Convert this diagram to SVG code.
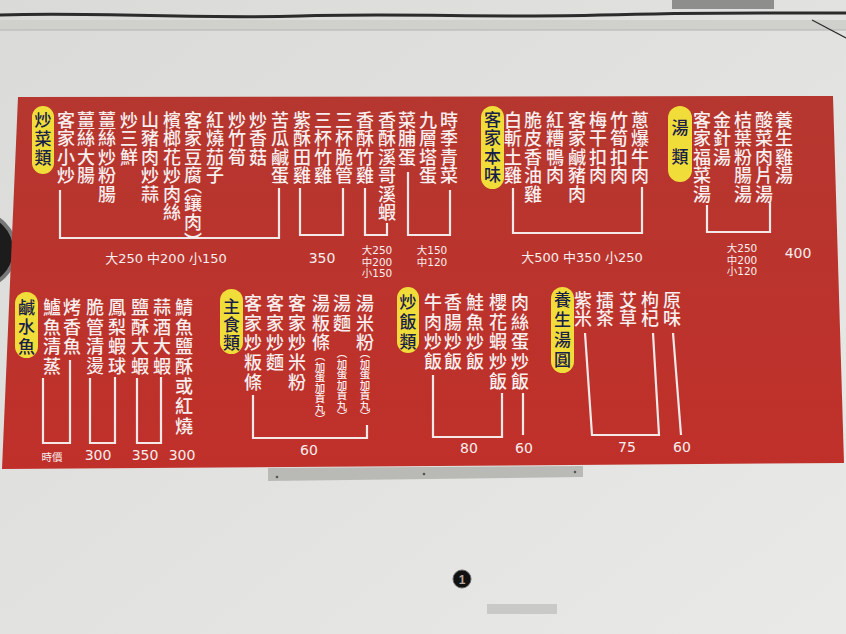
<svg xmlns="http://www.w3.org/2000/svg" width="846" height="634" viewBox="0 0 846 634">
<defs>
<linearGradient id="wall" x1="0" y1="0" x2="1" y2="1">
<stop offset="0" stop-color="#dadad8"/>
<stop offset="1" stop-color="#e9e9e7"/>
</linearGradient>
<linearGradient id="board" x1="0" y1="0" x2="0" y2="1">
<stop offset="0" stop-color="#b5372f"/>
<stop offset="1" stop-color="#c0302a"/>
</linearGradient>
<style>
.v{writing-mode:vertical-rl;font-family:"Noto Sans CJK TC","Noto Sans CJK SC",sans-serif;font-size:18px;fill:#f7eeee;letter-spacing:0.5px;font-weight:500}
.b{letter-spacing:1.8px}
.s{font-size:10.5px;letter-spacing:0}
.p{font-feature-settings:"vhal"}
.pill{fill:#f1dd3a}
.pt{writing-mode:vertical-rl;font-family:"Noto Sans CJK TC","Noto Sans CJK SC",sans-serif;font-size:17px;fill:#18204a;font-weight:500}
.pr{font-family:"DejaVu Sans","Noto Sans CJK TC",sans-serif;fill:#f7eeee;text-anchor:middle;font-size:13px}
.ps{font-size:10.5px}
.pn{font-size:14px}
.ln{fill:none;stroke:#f4e8e8;stroke-width:2.2;stroke-linejoin:miter}
</style>
</defs>
<rect width="846" height="634" fill="url(#wall)"/>
<g id="ceiling">
<rect x="0" y="20" width="846" height="10" fill="#d0d0cd"/>
<line x1="0" y1="30" x2="846" y2="30" stroke="#b4b4b1" stroke-width="1"/>
<path d="M0,15 C100,12 200,19 300,16 S500,18 600,15 S780,13 846,13" fill="none" stroke="#2b2b2b" stroke-width="3"/>
<rect x="672" y="0" width="102" height="9" fill="#8e8e8c"/>
<line x1="812" y1="20" x2="846" y2="38" stroke="#2b2b2b" stroke-width="1.2"/>
</g>
<g id="clock">
<circle cx="-22" cy="250" r="37" fill="#1c1c1c" stroke="#777" stroke-width="4"/>
</g>
<polygon id="board-panel" points="18,97 833,96 844,463 2,469" fill="url(#board)"/>
<polygon id="strip" points="268,468 583,466 583,477 268,481" fill="#b9b9b5"/>
<circle cx="277" cy="477" r="1.3" fill="#555"/>
<circle cx="424" cy="474" r="1.3" fill="#555"/>
<circle cx="575" cy="472" r="1.3" fill="#555"/>
<g id="tag">
<circle cx="462" cy="579" r="9" fill="#111" stroke="#666" stroke-width="1"/>
<text x="462" y="583.5" font-family="Liberation Sans, sans-serif" font-size="12" font-weight="bold" fill="#b9a9a0" text-anchor="middle">1</text>
</g>
<rect x="487" y="604" width="70" height="10" fill="#c9c9c7"/>

<g id="connectors" class="ln">
<path d="M60,190 V238 H279 V188"/>
<path d="M300,188 V235 H343 V188"/>
<path d="M365,188 V235 H387 V223"/>
<path d="M408,172 V235 H450 V190"/>
<path d="M513,188 V233 H642 V187"/>
<path d="M707,205 V232 H770 V203"/>
<path d="M43,378 V443 H70 V360"/>
<path d="M90,378 V443 H115 V377"/>
<path d="M137,378 V443 H161 V377"/>
<path d="M253,395 V438 H367 V425"/>
<path d="M433,375 V437 H502 V393"/>
<path d="M523,393 V435"/>
<path d="M585,333 L592,435 L659,435 L653,333"/>
<path d="M673,333 L681,435"/>
</g>

<g id="stir-fry">
<rect class="pill" x="32" y="106" width="22" height="68" rx="11"/>
<text class="pt" x="43" y="111" style="letter-spacing:2px">炒菜類</text>
<text class="v" x="66" y="111">客家小炒</text>
<text class="v" x="86" y="111">薑絲大腸</text>
<text class="v" x="107" y="111">薑絲炒粉腸</text>
<text class="v" x="129" y="111">炒三鮮</text>
<text class="v" x="150" y="111">山豬肉炒蒜</text>
<text class="v" x="172" y="111">檳榔花炒肉絲</text>
<text class="v" x="193" y="111">客家豆腐<tspan class="p">（</tspan>鑲肉<tspan class="p">）</tspan></text>
<text class="v" x="215" y="111">紅燒茄子</text>
<text class="v" x="237" y="111">炒竹筍</text>
<text class="v" x="258" y="111">炒香菇</text>
<text class="v" x="280" y="111">苦瓜鹹蛋</text>
<text class="v" x="302" y="111">紫酥田雞</text>
<text class="v" x="323" y="111">三杯竹雞</text>
<text class="v" x="344" y="111">三杯脆管</text>
<text class="v" x="365" y="111">香酥竹雞</text>
<text class="v" x="387" y="111">香酥溪哥溪蝦</text>
<text class="v" x="407" y="111">菜脯蛋</text>
<text class="v" x="428" y="111">九層塔蛋</text>
<text class="v" x="449" y="111">時季青菜</text>
<text class="pr" x="166" y="263">大250 中200 小150</text>
<text class="pr pn" x="322" y="263">350</text>
<text class="pr ps" x="377" y="254">大250</text>
<text class="pr ps" x="377" y="265.5">中200</text>
<text class="pr ps" x="377" y="277">小150</text>
<text class="pr ps" x="432" y="254">大150</text>
<text class="pr ps" x="432" y="266">中120</text>
</g>

<g id="hakka">
<rect class="pill" x="481" y="106" width="23" height="83" rx="11.5"/>
<text class="pt" x="492.5" y="111" style="letter-spacing:1.5px">客家本味</text>
<text class="v" x="513" y="111">白斬土雞</text>
<text class="v" x="533" y="111">脆皮香油雞</text>
<text class="v" x="555" y="111">紅糟鴨肉</text>
<text class="v" x="577" y="111">客家鹹豬肉</text>
<text class="v" x="598" y="111">梅干扣肉</text>
<text class="v" x="619" y="111">竹筍扣肉</text>
<text class="v" x="640" y="111">蔥爆牛肉</text>
<text class="pr" x="582" y="262">大500 中350 小250</text>
</g>

<g id="soup">
<rect class="pill" x="668" y="106" width="24" height="76" rx="12"/>
<text class="pt" x="680" y="119" style="letter-spacing:12px">湯類</text>
<text class="v" x="702" y="111">客家福菜湯</text>
<text class="v" x="722" y="111">金針湯</text>
<text class="v" x="743" y="111">桔葉粉腸湯</text>
<text class="v" x="764" y="111">酸菜肉片湯</text>
<text class="v" x="784" y="111">養生雞湯</text>
<text class="pr ps" x="742" y="252">大250</text>
<text class="pr ps" x="742" y="263.5">中200</text>
<text class="pr ps" x="742" y="275">小120</text>
<text class="pr pn" x="798" y="258">400</text>
</g>

<g id="fish">
<rect class="pill" x="15" y="292" width="23" height="66" rx="11.5"/>
<text class="pt" x="26.5" y="299" style="letter-spacing:2.5px">鹹水魚</text>
<text class="v b" x="52" y="298">鱸魚清蒸</text>
<text class="v b" x="72" y="298">烤香魚</text>
<text class="v b" x="95" y="298">脆管清燙</text>
<text class="v b" x="117" y="298">鳳梨蝦球</text>
<text class="v b" x="140" y="298">鹽酥大蝦</text>
<text class="v b" x="162" y="298">蒜酒大蝦</text>
<text class="v b" x="184" y="298">鯖魚鹽酥或紅燒</text>
<text class="pr ps" x="52" y="461">時價</text>
<text class="pr pn" x="98" y="460">300</text>
<text class="pr pn" x="145" y="460">350</text>
<text class="pr pn" x="182" y="460">300</text>
</g>

<g id="staple">
<rect class="pill" x="220" y="289" width="23" height="65" rx="11.5"/>
<text class="pt" x="231.5" y="298" style="letter-spacing:1px">主食類</text>
<text class="v b" x="253" y="294">客家炒粄條</text>
<text class="v b" x="275" y="294">客家炒麵</text>
<text class="v b" x="297" y="294">客家炒米粉</text>
<text class="v b" x="321" y="294">湯粄條</text>
<text class="v b" x="342" y="294">湯麵</text>
<text class="v b" x="365" y="294">湯米粉</text>
<text class="v s" x="320" y="351">（加蛋加貢丸）</text>
<text class="v s" x="342" y="348">（加蛋加貢丸）</text>
<text class="v s" x="365" y="348">（加蛋加貢丸）</text>
<text class="pr pn" x="309" y="455">60</text>
</g>

<g id="fried-rice">
<rect class="pill" x="397" y="287" width="22" height="66" rx="11"/>
<text class="pt" x="408" y="293" style="letter-spacing:3px">炒飯類</text>
<text class="v b" x="433" y="293">牛肉炒飯</text>
<text class="v b" x="453" y="293">香腸炒飯</text>
<text class="v b" x="475" y="293">鮭魚炒飯</text>
<text class="v b" x="498" y="293">櫻花蝦炒飯</text>
<text class="v b" x="520" y="293">肉絲蛋炒飯</text>
<text class="pr pn" x="469" y="453">80</text>
<text class="pr pn" x="524" y="453">60</text>
</g>

<g id="tangyuan">
<rect class="pill" x="551" y="287" width="23" height="86" rx="11.5"/>
<text class="pt" x="562.5" y="291" style="letter-spacing:3px">養生湯圓</text>
<text class="v" x="583" y="291">紫米</text>
<text class="v" x="605" y="291">擂茶</text>
<text class="v" x="628" y="291">艾草</text>
<text class="v" x="650" y="291">枸杞</text>
<text class="v" x="672" y="291">原味</text>
<text class="pr pn" x="627" y="452">75</text>
<text class="pr pn" x="682" y="452">60</text>
</g>
</svg>
